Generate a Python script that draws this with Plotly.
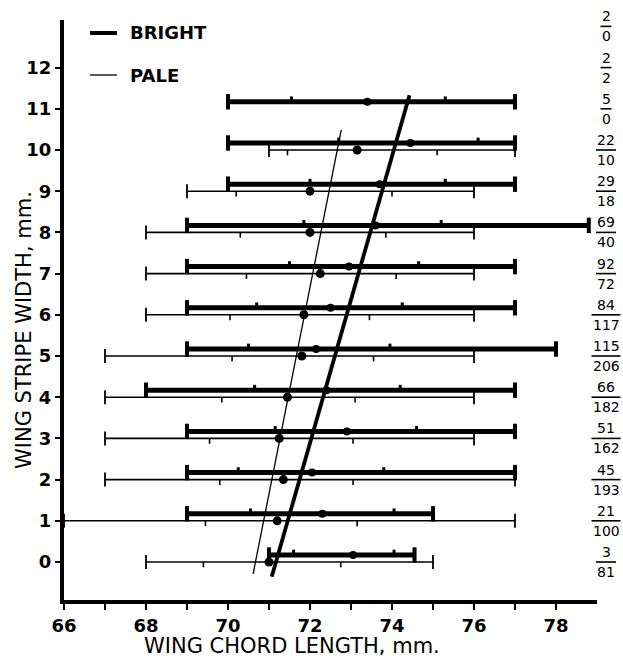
import plotly.graph_objects as go

# ---------------- data ----------------
rows_bright = list(range(0, 12))           # wing stripe width classes with bright birds
rows_pale = list(range(0, 11))             # classes with pale birds
# bright: range, mean, and +/- markers
b_min = [71, 69, 69, 69, 68, 69, 69, 69, 69, 70, 70, 70]
b_max = [74.55, 75, 77, 77, 77, 78, 77, 77, 78.8, 77, 77, 77]
b_mean = [73.05, 72.3, 72.05, 72.9, 72.4, 72.15, 72.5, 72.95, 73.6, 73.7, 74.45, 73.4]
b_lo = [71.6, 70.55, 70.25, 71.15, 70.65, 70.5, 70.7, 71.5, 71.85, 72.0, 72.7, 71.55]
b_hi = [74.05, 74.05, 73.8, 74.6, 74.2, 73.95, 74.25, 74.65, 75.2, 75.3, 76.1, 75.3]
# pale
p_min = [68, 66, 67, 67, 67, 67, 68, 68, 68, 69, 71]
p_max = [75, 77, 77, 76, 76, 76, 76, 76, 76, 76, 77]
p_mean = [71.0, 71.2, 71.35, 71.25, 71.45, 71.8, 71.85, 72.25, 72.0, 72.0, 73.15]
p_lo = [69.4, 69.45, 69.8, 69.55, 69.85, 70.1, 70.05, 70.45, 70.3, 70.2, 71.45]
p_hi = [72.75, 73.15, 73.05, 73.05, 73.1, 73.55, 73.45, 74.1, 73.85, 74.0, 75.1]
# sample sizes (bright / pale) for classes 0..13
count_rows = list(range(0, 14))
n_bright = [3, 21, 45, 51, 66, 115, 84, 92, 69, 29, 22, 5, 2, 2]
n_pale = [81, 100, 193, 162, 182, 206, 117, 72, 40, 18, 10, 0, 2, 0]
# fitted lines: x = intercept + slope * y, drawn over y extent
fit_bright = dict(intercept=71.17, slope=0.2874, y0=-0.36, y1=11.33)
fit_pale = dict(intercept=70.67, slope=0.1994, y0=-0.29, y1=10.49)

x_ticks = list(range(66, 79))
y_ticks = list(range(0, 13))

# ---------------- styling ----------------
B_OFF = 0.17      # bright bar drawn slightly above the class line
TICK_H = 0.13
FONT = "DejaVu Sans"

fig = go.Figure()


def segs(xs0, xs1, ys0, ys1):
    X, Y = [], []
    for a, b, c, d in zip(xs0, xs1, ys0, ys1):
        X += [a, b, None]
        Y += [c, d, None]
    return X, Y


yb = [r + B_OFF for r in rows_bright]
yp = list(rows_pale)

# pale ranges
X, Y = segs(p_min, p_max, yp, yp)
fig.add_trace(go.Scatter(x=X, y=Y, mode="lines", line=dict(color="black", width=1.6),
                         hoverinfo="skip", showlegend=False))
fig.add_trace(go.Scatter(x=p_min + p_max, y=yp + yp, mode="markers",
                         marker=dict(symbol="line-ns", size=10, line=dict(width=1.8, color="black")),
                         hoverinfo="skip", showlegend=False))
X, Y = segs(p_lo + p_hi, p_lo + p_hi, yp + yp, [v - TICK_H for v in yp + yp])
fig.add_trace(go.Scatter(x=X, y=Y, mode="lines", line=dict(color="black", width=1.6),
                         hoverinfo="skip", showlegend=False))

# bright ranges
X, Y = segs(b_min, b_max, yb, yb)
fig.add_trace(go.Scatter(x=X, y=Y, mode="lines", line=dict(color="black", width=5),
                         hoverinfo="skip", showlegend=False))
fig.add_trace(go.Scatter(x=b_min + b_max, y=yb + yb, mode="markers",
                         marker=dict(symbol="line-ns", size=11, line=dict(width=4, color="black")),
                         hoverinfo="skip", showlegend=False))
X, Y = segs(b_lo + b_hi, b_lo + b_hi, yb + yb, [v + TICK_H for v in yb + yb])
fig.add_trace(go.Scatter(x=X, y=Y, mode="lines", line=dict(color="black", width=3),
                         hoverinfo="skip", showlegend=False))

# fitted lines
for fit, w in ((fit_pale, 1.3), (fit_bright, 3.8)):
    ys = [fit["y0"], fit["y1"]]
    xs = [fit["intercept"] + fit["slope"] * v for v in ys]
    fig.add_trace(go.Scatter(x=xs, y=ys, mode="lines", line=dict(color="black", width=w),
                             hoverinfo="skip", showlegend=False))

# means
fig.add_trace(go.Scatter(x=p_mean, y=yp, mode="markers", marker=dict(color="black", size=9),
                         hoverinfo="skip", showlegend=False))
fig.add_trace(go.Scatter(x=b_mean, y=yb, mode="markers", marker=dict(color="black", size=8),
                         hoverinfo="skip", showlegend=False))

# geometry helpers (pixels -> paper)
L = 64
W = 533
T = 20
H = 580


def px(x):
    return (x - L) / W


def py(y):
    return (T + H - y) / H


# sample size fractions
FRAC_X = 606
DIGIT_W = 9.0
for r, nb, np_ in zip(count_rows, n_bright, n_pale):
    fig.add_annotation(x=px(FRAC_X), xref="paper", y=r, yref="y", text=str(nb), showarrow=False,
                       xanchor="center", yanchor="bottom", yshift=1, borderpad=0,
                       font=dict(family=FONT, size=14, color="black"))
    fig.add_annotation(x=px(FRAC_X), xref="paper", y=r, yref="y", text=str(np_), showarrow=False,
                       xanchor="center", yanchor="top", yshift=-1, borderpad=0,
                       font=dict(family=FONT, size=14, color="black"))
    half = max(len(str(nb)), len(str(np_))) * DIGIT_W / 2 + 1
    fig.add_shape(type="line", xref="paper", yref="y", x0=px(FRAC_X - half), x1=px(FRAC_X + half),
                  y0=r, y1=r, line=dict(color="black", width=1.6))

# legend (drawn)
fig.add_shape(type="line", xref="paper", yref="paper", x0=px(90), x1=px(117), y0=py(33), y1=py(33),
              line=dict(color="black", width=4))
fig.add_shape(type="line", xref="paper", yref="paper", x0=px(90), x1=px(117), y0=py(75), y1=py(75),
              line=dict(color="black", width=1.3))
fig.add_annotation(x=px(128), y=py(33), xref="paper", yref="paper", text="BRIGHT", showarrow=False,
                   xanchor="left", yanchor="middle", font=dict(family=FONT, size=18, color="black", weight="bold"))
fig.add_annotation(x=px(128), y=py(75), xref="paper", yref="paper", text="PALE", showarrow=False,
                   xanchor="left", yanchor="middle", font=dict(family=FONT, size=18, color="black", weight="bold"))

# axis titles
fig.add_annotation(x=px(292), y=py(646), xref="paper", yref="paper", text="WING CHORD LENGTH, mm.",
                   showarrow=False, xanchor="center", yanchor="middle",
                   font=dict(family=FONT, size=21, color="black"))
fig.add_annotation(x=px(24), y=py(330), xref="paper", yref="paper", text="WING STRIPE WIDTH, mm.",
                   showarrow=False, xanchor="center", yanchor="middle", textangle=-90,
                   font=dict(family=FONT, size=21, color="black"))

fig.update_layout(
    width=623, height=663,
    margin=dict(l=L, r=623 - L - W, t=T, b=663 - T - H),
    plot_bgcolor="white", paper_bgcolor="white",
    xaxis=dict(range=[66, 79], tickvals=x_ticks,
               ticktext=[str(v) if v % 2 == 0 else "" for v in x_ticks],
               ticks="outside", ticklen=6, tickwidth=2, tickcolor="black",
               showline=True, linewidth=4, linecolor="black",
               showgrid=False, zeroline=False,
               tickfont=dict(family=FONT, size=18, color="black", weight="bold")),
    yaxis=dict(range=[-0.922, 13.155], tickvals=y_ticks, ticktext=[str(v) for v in y_ticks],
               ticks="outside", ticklen=5, tickwidth=2, tickcolor="black",
               showline=True, linewidth=4, linecolor="black",
               showgrid=False, zeroline=False,
               tickfont=dict(family=FONT, size=18, color="black", weight="bold")),
)

fig.write_html("out.html")
